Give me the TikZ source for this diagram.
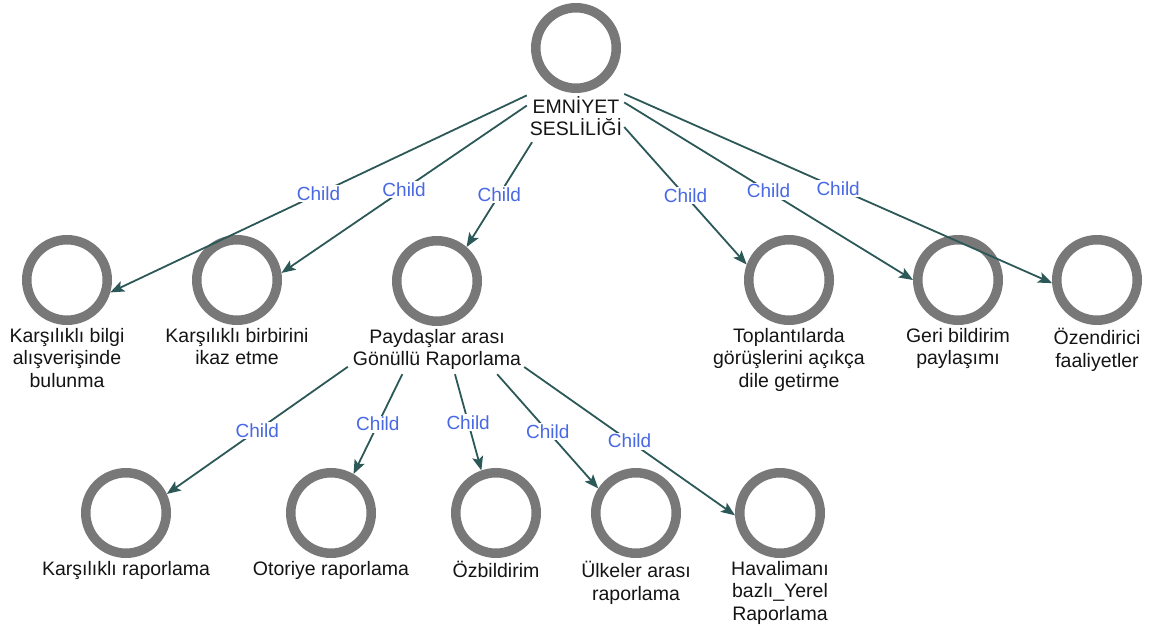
\documentclass[tikz,border=0pt]{standalone}
\usepackage{fontspec}
\setmainfont{Liberation Sans}
\usetikzlibrary{arrows.meta}

\definecolor{ringgray}{RGB}{120,120,120}
\definecolor{edgeteal}{RGB}{44,88,88}
\definecolor{childblue}{RGB}{72,104,228}
\definecolor{inkblack}{RGB}{20,20,20}

\tikzset{
  ring/.style={circle, draw=ringgray, line width=9.5pt, fill=white,
    minimum size=80.5pt, inner sep=0pt},
  caption/.style={anchor=north, align=center, inner sep=0pt, yshift=-3pt,
    text=inkblack, font=\fontsize{19.5}{22.5}\selectfont},
  hub/.style={rectangle, inner sep=0pt, draw=none},
  link/.style={draw=edgeteal, line width=1.8pt,
    -{Stealth[length=14pt,width=11pt,inset=3pt]}},
  childlbl/.style={midway, fill=white, inner sep=1.5pt, text=childblue,
    font=\fontsize{19}{22}\selectfont},
}

\begin{document}
\begin{tikzpicture}[x=1pt,y=-1pt]
\useasboundingbox (0,0) rectangle (1149,631);

% root
\node[ring] (root) at (576,48) {};
\node[caption] (rootlbl) at (root.south) {EMNİYET\\SESLİLİĞİ};
\node[hub, minimum width=97pt, minimum height=139pt] (rootbox) at (575.5,72.5) {};

% first level
\node[ring] (n1) at (67,280) {};
\node[caption] (n1lbl) at (n1.south) {Karşılıklı bilgi\\alışverişinde\\bulunma};
\node[ring] (n2) at (237,280) {};
\node[caption] (n2lbl) at (n2.south) {Karşılıklı birbirini\\ikaz etme};
\node[ring] (n3) at (437,281) {};
\node[caption] (n3lbl) at (n3.south) {Paydaşlar arası\\Gönüllü Raporlama};
\node[hub, minimum width=176pt, minimum height=138pt] (n3box) at (436,305) {};
\node[ring] (n4) at (789,280) {};
\node[caption] (n4lbl) at (n4.south) {Toplantılarda\\görüşlerini açıkça\\dile getirme};
\node[ring] (n5) at (958,280) {};
\node[caption] (n5lbl) at (n5.south) {Geri bildirim\\paylaşımı};
\node[ring] (n6) at (1097,280) {};
\node[caption] (n6lbl) at (n6.south) {Özendirici\\faaliyetler};

% second level
\node[ring] (m1) at (126,513) {};
\node[caption] (m1lbl) at (m1.south) {Karşılıklı raporlama};
\node[ring] (m2) at (331,513) {};
\node[caption] (m2lbl) at (m2.south) {Otoriye raporlama};
\node[ring] (m3) at (496,513) {};
\node[caption] (m3lbl) at (m3.south) {Özbildirim};
\node[ring] (m4) at (636,513) {};
\node[caption] (m4lbl) at (m4.south) {Ülkeler arası\\raporlama};
\node[ring] (m5) at (780,513) {};
\node[caption] (m5lbl) at (m5.south) {Havalimanı\\bazlı\_Yerel\\Raporlama};

% links from the root
\draw[link] (rootbox) -- node[childlbl]{Child} (n1.-16);
\draw[link] (rootbox) -- node[childlbl]{Child} (n2.9);
\draw[link] (rootbox) -- node[childlbl]{Child} (n3.49);
\draw[link] (rootbox) -- node[childlbl]{Child} (n4.160);
\draw[link] (rootbox) -- node[childlbl]{Child} (n5.180);
\draw[link] (rootbox) -- node[childlbl]{Child} (n6.-176);

% links from the reporting node
\draw[link] (n3box) -- node[childlbl]{Child} (m1.25);
\draw[link] (n3box) -- node[childlbl]{Child} (m2.60);
\draw[link] (n3box) -- node[childlbl]{Child} (m3.109);
\draw[link] (n3box) -- node[childlbl]{Child} (m4.147);
\draw[link] (n3box) -- node[childlbl]{Child} (m5.-177);
\end{tikzpicture}
\end{document}
